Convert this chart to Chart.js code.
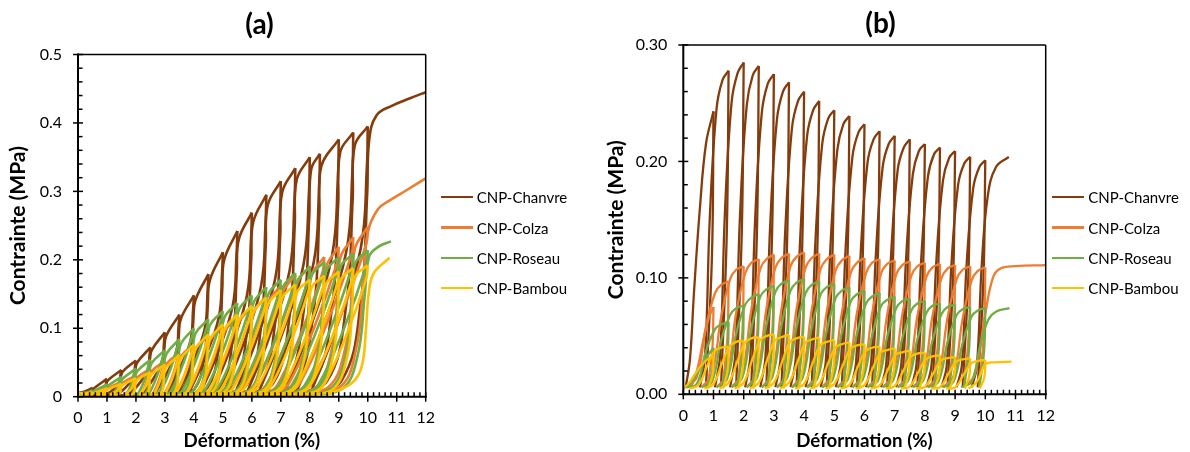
<!DOCTYPE html>
<html>
<head>
<meta charset="utf-8">
<script src="https://cdn.jsdelivr.net/npm/chart.js@4.4.1/dist/chart.umd.min.js"></script>
<style>
  html, body { margin: 0; padding: 0; background: #fff; }
  body { width: 1190px; height: 452px; position: relative; overflow: hidden; font-family: Lato, "Open Sans", sans-serif; }
  canvas { position: absolute; top: 0; }
  #ca { left: 0; }
  #cb { left: 600px; }
  .ttl { position: absolute; transform: translate(-50%, -50%); font: bold 28px Lato, sans-serif; color: #000; white-space: nowrap; }
  .leg { position: absolute; height: 20px; display: flex; align-items: center; font: 15px Lato, sans-serif; color: #000; white-space: nowrap; transform: translateY(-50%); }
  .leg i { display: inline-block; width: 32px; height: 2.5px; margin-right: 4px; }
</style>
</head>
<body>
<canvas id="ca" width="520" height="452"></canvas>
<canvas id="cb" width="590" height="452"></canvas>
<div class="ttl" style="left:259.5px;top:22.5px">(a)</div>
<div class="ttl" style="left:880.5px;top:22px">(b)</div>
<div id="legends"></div>
<script>
// Series identity
const seriesNames = ['CNP-Chanvre', 'CNP-Colza', 'CNP-Roseau', 'CNP-Bambou'];
const seriesColors = ['#843C0C', '#ED7D31', '#70AD47', '#FFC000'];

// Axis ticks
const strainTicks = [0, 1, 2, 3, 4, 5, 6, 7, 8, 9, 10, 11, 12];
const stressTicksA = [0, 0.1, 0.2, 0.3, 0.4, 0.5];
const stressLabelsA = ['0', '0.1', '0.2', '0.3', '0.4', '0.5'];
const stressTicksB = [0, 0.1, 0.2, 0.3];
const stressLabelsB = ['0.00', '0.10', '0.20', '0.30'];

// (a) loading/unloading cycles: [strain %, stress MPa]
const chanvreA = [
  [[0,.005],[.25,.008],[.5,.013],[.47,.011],[.46,.0072],[.31,.0033],[.15,.003]],
  [[.115,.003],[.34,.003],[.46,.0046],[.48,.0098],[.55,.0124],[1,.026],[.97,.0221],[.95,.0143],[.75,.0065],[.55,.003]],
  [[.5,.003],[.8,.003],[.95,.0091],[.98,.0195],[1.05,.0247],[1.5,.039],[1.47,.0332],[1.43,.0215],[1.2,.0098],[.95,.003]],
  [[.9,.003],[1.25,.003],[1.43,.0137],[1.48,.0293],[1.55,.037],[2,.053],[1.97,.045],[1.92,.0292],[1.64,.0133],[1.35,.003]],
  [[1.29,.003],[1.71,.0032],[1.92,.0186],[1.98,.0398],[2.05,.0504],[2.5,.072],[2.47,.0612],[2.41,.0396],[2.09,.018],[1.75,.003]],
  [[1.68,.003],[2.16,.0043],[2.41,.0252],[2.48,.054],[2.55,.0684],[3,.094],[2.97,.0799],[2.9,.0517],[2.56,.0235],[2.2,.003]],
  [[2.12,.003],[2.64,.0056],[2.9,.0329],[2.98,.0705],[3.05,.0893],[3.5,.12],[3.47,.102],[3.39,.066],[3.01,.03],[2.6,.003]],
  [[2.51,.003],[3.1,.0072],[3.39,.042],[3.48,.09],[3.55,.114],[4,.148],[3.97,.1258],[3.88,.0814],[3.45,.037],[3,.003]],
  [[2.9,.003],[3.55,.0089],[3.88,.0518],[3.98,.111],[4.05,.1406],[4.5,.179],[4.47,.1522],[4.37,.0985],[3.9,.0448],[3.4,.003]],
  [[3.29,.003],[4.01,.0107],[4.37,.0627],[4.48,.1343],[4.55,.17],[5,.211],[4.97,.1794],[4.86,.1161],[4.34,.0528],[3.8,.003]],
  [[3.68,.003],[4.46,.0127],[4.86,.0739],[4.98,.1583],[5.05,.2005],[5.5,.242],[5.47,.2057],[5.34,.1331],[4.79,.0605],[4.2,.003]],
  [[4.07,.003],[4.92,.0145],[5.34,.0847],[5.48,.1815],[5.55,.2299],[6,.269],[5.97,.2287],[5.83,.148],[5.23,.0673],[4.6,.003]],
  [[4.46,.003],[5.37,.0161],[5.83,.0942],[5.98,.2018],[6.05,.2556],[6.5,.295],[6.47,.2508],[6.32,.1623],[5.68,.0738],[5,.003]],
  [[4.85,.003],[5.83,.0177],[6.32,.1033],[6.48,.2213],[6.55,.2803],[7,.315],[6.97,.2678],[6.81,.1733],[6.12,.0788],[5.4,.003]],
  [[5.24,.003],[6.28,.0189],[6.81,.1103],[6.98,.2363],[7.05,.2993],[7.5,.334],[7.47,.2839],[7.3,.1837],[6.57,.0835],[5.8,.003]],
  [[5.63,.003],[6.74,.02],[7.3,.1169],[7.48,.2505],[7.55,.3173],[8,.35],[7.97,.2975],[7.78,.1925],[7.01,.0875],[6.2,.003]],
  [[6.02,.003],[7.19,.021],[7.78,.1225],[7.98,.2625],[8.05,.3325],[8.35,.355],[8.32,.3018],[8.13,.1953],[7.33,.0888],[6.5,.003]],
  [[6.31,.003],[7.52,.0213],[8.13,.1243],[8.33,.2663],[8.4,.3373],[9,.376],[8.97,.3196],[8.77,.2068],[7.96,.094],[7.1,.003]],
  [[6.91,.003],[8.15,.0226],[8.77,.1316],[8.98,.282],[9.05,.3572],[9.5,.386],[9.47,.3281],[9.26,.2123],[8.4,.0965],[7.5,.003]],
  [[7.3,.003],[8.6,.0232],[9.26,.1351],[9.48,.2895],[9.55,.3667],[10,.395],[9.97,.3358],[9.76,.2173],[8.9,.0988],[8,.003]],
  [[7.8,.003],[9.1,.0237],[9.76,.1383],[9.98,.2963],[10.05,.3753],[10.3,.411],[10.83,.425],[11.46,.436],[12,.445]]
];
const colzaA = [
  [[0,.004],[.3,.005],[.5,.007],[.45,.0063],[.35,.0032],[.15,.003]],
  [[.1,.003],[.44,.003],[.47,.0049],[.56,.0065],[1,.014],[.95,.0126],[.85,.0063],[.65,.003]],
  [[.6,.003],[.85,.003],[.955,.0042],[.97,.0098],[1.06,.013],[1.5,.022],[1.45,.0198],[1.35,.0099],[1.12,.003]],
  [[1.1,.003],[1.35,.003],[1.455,.0066],[1.47,.0154],[1.56,.0205],[2,.031],[1.95,.0279],[1.85,.014],[1.62,.003]],
  [[1.6,.003],[1.85,.003],[1.955,.0093],[1.97,.0217],[2.06,.0288],[2.5,.041],[2.45,.0369],[2.34,.0185],[2.17,.0033],[2.09,.003]],
  [[2.05,.003],[2.34,.003],[2.45,.0123],[2.47,.0287],[2.56,.0381],[3,.052],[2.95,.0468],[2.79,.0234],[2.58,.0042],[2.48,.003]],
  [[2.43,.003],[2.79,.003],[2.94,.0156],[2.97,.0364],[3.06,.0484],[3.5,.064],[3.45,.0576],[3.25,.0288],[2.99,.0051],[2.86,.003]],
  [[2.81,.003],[3.25,.0032],[3.42,.0192],[3.47,.0448],[3.56,.0595],[4,.076],[3.95,.0684],[3.7,.0342],[3.39,.0061],[3.24,.003]],
  [[3.18,.003],[3.7,.0038],[3.91,.0228],[3.97,.0532],[4.06,.0707],[4.5,.089],[4.45,.0801],[4.15,.04],[3.79,.0071],[3.61,.003]],
  [[3.54,.003],[4.15,.0045],[4.39,.0267],[4.47,.0623],[4.56,.0828],[5,.102],[4.95,.0918],[4.59,.0459],[4.18,.0082],[3.98,.003]],
  [[3.89,.003],[4.59,.0051],[4.88,.0306],[4.97,.0714],[5.06,.0949],[5.5,.117],[5.45,.1053],[5.03,.0527],[4.56,.0094],[4.33,.003]],
  [[4.23,.003],[5.03,.0059],[5.36,.0351],[5.47,.0819],[5.56,.1088],[6,.132],[5.95,.1188],[5.47,.0594],[4.94,.0106],[4.68,.003]],
  [[4.57,.003],[5.47,.0066],[5.84,.0396],[5.97,.0924],[6.06,.1228],[6.5,.147],[6.45,.1323],[5.91,.0662],[5.32,.0118],[5.03,.003]],
  [[4.91,.003],[5.91,.0074],[6.32,.0441],[6.47,.1029],[6.56,.1367],[7,.163],[6.95,.1467],[6.35,.0734],[5.7,.013],[5.38,.003]],
  [[5.25,.003],[6.35,.0082],[6.81,.0489],[6.97,.1141],[7.06,.1516],[7.5,.178],[7.45,.1602],[6.79,.0801],[6.08,.0142],[5.73,.003]],
  [[5.58,.003],[6.79,.0089],[7.29,.0534],[7.47,.1246],[7.56,.1655],[8,.191],[7.95,.1719],[7.24,.086],[6.47,.0153],[6.09,.003]],
  [[5.93,.003],[7.24,.0096],[7.77,.0573],[7.97,.1337],[8.06,.1776],[8.5,.204],[8.45,.1836],[7.69,.0918],[6.87,.0163],[6.46,.003]],
  [[6.3,.003],[7.69,.0102],[8.26,.0612],[8.47,.1428],[8.56,.1897],[9,.219],[8.95,.1971],[8.13,.0986],[7.25,.0175],[6.81,.003]],
  [[6.64,.003],[8.13,.011],[8.74,.0657],[8.97,.1533],[9.06,.2037],[9.5,.233],[9.45,.2097],[8.57,.1049],[7.64,.0186],[7.18,.003]],
  [[6.99,.003],[8.57,.0117],[9.22,.0699],[9.47,.1631],[9.56,.2167],[10,.248],[9.95,.2232],[9.01,.1116],[8.02,.0198],[7.53,.003]],
  [[7.33,.003],[9,.013],[9.6,.07],[9.85,.17],[10,.24],[10.35,.274],[10.8,.288],[11.35,.302],[12,.319]]
];
const roseauA = [
  [[0,.005],[.3,.006],[.5,.009],[.45,.0081],[.35,.004],[.15,.003]],
  [[.1,.003],[.44,.0035],[.47,.0063],[.56,.0084],[1,.018],[.95,.0162],[.85,.0081],[.65,.003]],
  [[.6,.003],[.85,.003],[.955,.0054],[.97,.0126],[1.06,.0167],[1.5,.029],[1.45,.0261],[1.35,.013],[1.2,.0032],[1.12,.003]],
  [[1.1,.003],[1.35,.003],[1.455,.0087],[1.47,.0203],[1.56,.027],[2,.041],[1.95,.0369],[1.84,.0185],[1.67,.0033],[1.59,.003]],
  [[1.55,.003],[1.84,.003],[1.95,.0123],[1.97,.0287],[2.06,.0381],[2.5,.054],[2.45,.0486],[2.29,.0243],[2.07,.0043],[1.96,.003]],
  [[1.92,.003],[2.29,.003],[2.44,.0162],[2.47,.0378],[2.56,.0502],[3,.068],[2.95,.0612],[2.73,.0306],[2.46,.0054],[2.33,.003]],
  [[2.27,.003],[2.73,.0034],[2.92,.0204],[2.97,.0476],[3.06,.0632],[3.5,.084],[3.45,.0756],[3.17,.0378],[2.83,.0067],[2.66,.003]],
  [[2.6,.003],[3.17,.0042],[3.4,.0252],[3.47,.0588],[3.56,.0781],[4,.1],[3.95,.09],[3.6,.045],[3.2,.008],[3,.003]],
  [[2.92,.003],[3.6,.005],[3.88,.03],[3.97,.07],[4.06,.093],[4.5,.113],[4.45,.1017],[4.05,.0509],[3.6,.009],[3.38,.003]],
  [[3.29,.003],[4.05,.0057],[4.37,.0339],[4.47,.0791],[4.56,.1051],[5,.125],[4.95,.1125],[4.5,.0563],[4,.01],[3.75,.003]],
  [[3.65,.003],[4.5,.0063],[4.85,.0375],[4.97,.0875],[5.06,.1163],[5.5,.137],[5.45,.1233],[4.95,.0617],[4.4,.011],[4.13,.003]],
  [[4.02,.003],[4.95,.0069],[5.34,.0411],[5.47,.0959],[5.56,.1274],[6,.148],[5.95,.1332],[5.41,.0666],[4.82,.0118],[4.53,.003]],
  [[4.41,.003],[5.41,.0074],[5.82,.0444],[5.97,.1036],[6.06,.1376],[6.5,.16],[6.45,.144],[5.86,.072],[5.22,.0128],[4.9,.003]],
  [[4.77,.003],[5.86,.008],[6.31,.048],[6.47,.112],[6.56,.1488],[7,.171],[6.95,.1539],[6.32,.077],[5.63,.0137],[5.29,.003]],
  [[5.15,.003],[6.32,.0086],[6.79,.0513],[6.97,.1197],[7.06,.159],[7.5,.181],[7.45,.1629],[6.78,.0815],[6.05,.0145],[5.69,.003]],
  [[5.54,.003],[6.78,.0091],[7.28,.0543],[7.47,.1267],[7.56,.1683],[8,.19],[7.95,.171],[7.24,.0855],[6.48,.0152],[6.1,.003]],
  [[5.95,.003],[7.24,.0095],[7.77,.057],[7.97,.133],[8.06,.1767],[8.5,.197],[8.45,.1773],[7.71,.0887],[6.92,.0158],[6.53,.003]],
  [[6.37,.003],[7.71,.0099],[8.26,.0591],[8.47,.1379],[8.56,.1832],[9,.204],[8.95,.1836],[8.19,.0918],[7.37,.0163],[6.96,.003]],
  [[6.8,.003],[8.19,.0102],[8.76,.0612],[8.97,.1428],[9.06,.1897],[9.5,.209],[9.45,.1881],[8.67,.0941],[7.83,.0167],[7.41,.003]],
  [[7.25,.003],[8.67,.0105],[9.25,.0627],[9.47,.1463],[9.56,.1944],[10,.214],[9.95,.1926],[9.15,.0963],[8.29,.0171],[7.86,.003]],
  [[7.69,.003],[9.1,.011],[9.65,.06],[9.9,.15],[10.05,.205],[10.4,.22],[10.8,.227]]
];
const bambouA = [
  [[0,.005],[.3,.005],[.5,.006],[.45,.0054],[.3,.003]],
  [[.1,.003],[.44,.003],[.47,.0042],[.56,.0056],[1,.012],[.95,.0108],[.85,.0054],[.65,.003]],
  [[.6,.003],[.85,.003],[.955,.0036],[.97,.0084],[1.06,.0112],[1.5,.019],[1.45,.0171],[1.35,.0086],[1.12,.003]],
  [[1.1,.003],[1.35,.003],[1.455,.0057],[1.47,.0133],[1.56,.0177],[2,.027],[1.95,.0243],[1.85,.0122],[1.62,.003]],
  [[1.6,.003],[1.85,.003],[1.955,.0081],[1.97,.0189],[2.06,.0251],[2.5,.036],[2.45,.0324],[2.35,.0162],[2.12,.003]],
  [[2.1,.003],[2.35,.003],[2.455,.0108],[2.47,.0252],[2.56,.0335],[3,.047],[2.95,.0423],[2.81,.0212],[2.62,.0038],[2.53,.003]],
  [[2.49,.003],[2.81,.003],[2.94,.0141],[2.97,.0329],[3.06,.0437],[3.5,.061],[3.45,.0549],[3.26,.0275],[3.01,.0049],[2.89,.003]],
  [[2.84,.003],[3.26,.003],[3.43,.0183],[3.47,.0427],[3.56,.0567],[4,.076],[3.95,.0684],[3.7,.0342],[3.39,.0061],[3.24,.003]],
  [[3.18,.003],[3.7,.0038],[3.91,.0228],[3.97,.0532],[4.06,.0707],[4.5,.091],[4.45,.0819],[4.14,.041],[3.77,.0073],[3.59,.003]],
  [[3.51,.003],[4.14,.0046],[4.39,.0273],[4.47,.0637],[4.56,.0846],[5,.106],[4.95,.0954],[4.58,.0477],[4.15,.0085],[3.94,.003]],
  [[3.85,.003],[4.58,.0053],[4.87,.0318],[4.97,.0742],[5.06,.0986],[5.5,.12],[5.45,.108],[5.02,.054],[4.54,.0096],[4.3,.003]],
  [[4.2,.003],[5.02,.006],[5.36,.036],[5.47,.084],[5.56,.1116],[6,.133],[5.95,.1197],[5.47,.0599],[4.94,.0106],[4.68,.003]],
  [[4.57,.003],[5.47,.0067],[5.84,.0399],[5.97,.0931],[6.06,.1237],[6.5,.145],[6.45,.1305],[5.92,.0653],[5.34,.0116],[5.05,.003]],
  [[4.93,.003],[5.92,.0073],[6.33,.0435],[6.47,.1015],[6.56,.1349],[7,.156],[6.95,.1404],[6.38,.0702],[5.75,.0125],[5.44,.003]],
  [[5.31,.003],[6.38,.0078],[6.81,.0468],[6.97,.1092],[7.06,.1451],[7.5,.164],[7.45,.1476],[6.85,.0738],[6.19,.0131],[5.86,.003]],
  [[5.73,.003],[6.85,.0082],[7.3,.0492],[7.47,.1148],[7.56,.1525],[8,.171],[7.95,.1539],[7.32,.077],[6.63,.0137],[6.29,.003]],
  [[6.15,.003],[7.32,.0086],[7.79,.0513],[7.97,.1197],[8.06,.159],[8.5,.177],[8.45,.1593],[7.79,.0797],[7.08,.0142],[6.73,.003]],
  [[6.58,.003],[7.79,.0089],[8.29,.0531],[8.47,.1239],[8.56,.1646],[9,.183],[8.95,.1647],[8.27,.0824],[7.54,.0146],[7.18,.003]],
  [[7.03,.003],[8.27,.0092],[8.78,.0549],[8.97,.1281],[9.06,.1702],[9.5,.188],[9.45,.1692],[8.75,.0846],[8,.015],[7.63,.003]],
  [[7.48,.003],[8.75,.0094],[9.28,.0564],[9.47,.1316],[9.56,.1748],[10,.192],[9.95,.1728],[9.23,.0864],[8.46,.0154],[8.08,.003]],
  [[8.6,.003],[9.45,.02],[9.79,.044],[9.94,.1],[10.03,.15],[10.2,.18],[10.75,.203]]
];

// (b) loading/unloading cycles: [strain %, stress MPa]
const chanvreB = [
  [[.08,.006],[.22,.03],[.36,.09],[.55,.16],[.75,.215],[1,.243],[.95,.12],[.75,.006]],
  [[.55,.006],[.72,.033],[.88,.153],[1.1,.245],[1.3,.27],[1.5,.278],[1.44,.139],[1.25,.006]],
  [[1.05,.006],[1.22,.034],[1.38,.157],[1.6,.251],[1.8,.276],[2,.285],[1.94,.143],[1.75,.006]],
  [[1.55,.006],[1.72,.034],[1.88,.155],[2.1,.248],[2.3,.274],[2.5,.282],[2.44,.141],[2.25,.006]],
  [[2.05,.006],[2.22,.033],[2.38,.151],[2.6,.242],[2.8,.267],[3,.275],[2.94,.138],[2.75,.006]],
  [[2.55,.006],[2.72,.032],[2.88,.147],[3.1,.236],[3.3,.26],[3.5,.268],[3.44,.134],[3.25,.006]],
  [[3.05,.006],[3.22,.031],[3.38,.143],[3.6,.229],[3.8,.252],[4,.26],[3.94,.13],[3.75,.006]],
  [[3.55,.006],[3.72,.03],[3.88,.139],[4.1,.222],[4.3,.244],[4.5,.252],[4.44,.126],[4.25,.006]],
  [[4.05,.006],[4.22,.029],[4.38,.134],[4.6,.215],[4.8,.237],[5,.244],[4.94,.122],[4.75,.006]],
  [[4.55,.006],[4.72,.029],[4.88,.131],[5.1,.21],[5.3,.232],[5.5,.239],[5.44,.12],[5.25,.006]],
  [[5.05,.006],[5.22,.028],[5.38,.128],[5.6,.204],[5.8,.225],[6,.232],[5.94,.116],[5.75,.006]],
  [[5.55,.006],[5.72,.027],[5.88,.124],[6.1,.199],[6.3,.219],[6.5,.226],[6.44,.113],[6.25,.006]],
  [[6.05,.006],[6.22,.027],[6.38,.122],[6.6,.195],[6.8,.215],[7,.222],[6.94,.111],[6.75,.006]],
  [[6.55,.006],[6.72,.026],[6.88,.12],[7.1,.193],[7.3,.212],[7.5,.219],[7.44,.11],[7.25,.006]],
  [[7.05,.006],[7.22,.026],[7.38,.118],[7.6,.189],[7.8,.209],[8,.215],[7.94,.108],[7.75,.006]],
  [[7.55,.006],[7.72,.025],[7.88,.117],[8.1,.187],[8.3,.206],[8.5,.212],[8.44,.106],[8.25,.006]],
  [[8.05,.006],[8.22,.025],[8.38,.115],[8.6,.184],[8.8,.203],[9,.209],[8.94,.105],[8.75,.006]],
  [[8.55,.006],[8.72,.024],[8.88,.112],[9.1,.18],[9.3,.198],[9.5,.204],[9.44,.102],[9.25,.006]],
  [[9.05,.006],[9.22,.024],[9.38,.111],[9.6,.177],[9.8,.195],[10,.201],[9.94,.1],[9.75,.006]],
  [[9.55,.006],[9.72,.024],[9.88,.11],[10.08,.17],[10.35,.195],[10.78,.204]]
];
const colzaB = [
  [[.25,.006],[.45,.02],[.65,.045],[.85,.066],[1,.075],[.96,.038],[.8,.006]],
  [[.1,.006],[.45,.015],[.75,.058],[1.05,.087],[1.25,.094],[1.5,.097],[1.46,.049],[1.3,.006]],
  [[.6,.006],[.95,.017],[1.25,.066],[1.55,.099],[1.75,.107],[2,.11],[1.96,.055],[1.8,.006]],
  [[1.1,.006],[1.45,.017],[1.75,.07],[2.05,.104],[2.25,.113],[2.5,.116],[2.46,.058],[2.3,.006]],
  [[1.6,.006],[1.95,.018],[2.25,.072],[2.55,.108],[2.75,.116],[3,.12],[2.96,.06],[2.8,.006]],
  [[2.1,.006],[2.45,.018],[2.75,.073],[3.05,.109],[3.25,.117],[3.5,.121],[3.46,.061],[3.3,.006]],
  [[2.6,.006],[2.95,.018],[3.25,.073],[3.55,.11],[3.75,.118],[4,.122],[3.96,.061],[3.8,.006]],
  [[3.1,.006],[3.45,.018],[3.75,.073],[4.05,.109],[4.25,.117],[4.5,.121],[4.46,.061],[4.3,.006]],
  [[3.6,.006],[3.95,.018],[4.25,.072],[4.55,.108],[4.75,.116],[5,.12],[4.96,.06],[4.8,.006]],
  [[4.1,.006],[4.45,.018],[4.75,.071],[5.05,.107],[5.25,.115],[5.5,.119],[5.46,.06],[5.3,.006]],
  [[4.6,.006],[4.95,.018],[5.25,.07],[5.55,.105],[5.75,.113],[6,.117],[5.96,.059],[5.8,.006]],
  [[5.1,.006],[5.45,.017],[5.75,.07],[6.05,.104],[6.25,.113],[6.5,.116],[6.46,.058],[6.3,.006]],
  [[5.6,.006],[5.95,.017],[6.25,.069],[6.55,.104],[6.75,.112],[7,.115],[6.96,.058],[6.8,.006]],
  [[6.1,.006],[6.45,.017],[6.75,.068],[7.05,.103],[7.25,.111],[7.5,.114],[7.46,.057],[7.3,.006]],
  [[6.6,.006],[6.95,.017],[7.25,.068],[7.55,.102],[7.75,.11],[8,.113],[7.96,.057],[7.8,.006]],
  [[7.1,.006],[7.45,.017],[7.75,.067],[8.05,.101],[8.25,.109],[8.5,.112],[8.46,.056],[8.3,.006]],
  [[7.6,.006],[7.95,.017],[8.25,.067],[8.55,.1],[8.75,.108],[9,.111],[8.96,.056],[8.8,.006]],
  [[8.1,.006],[8.45,.017],[8.75,.066],[9.05,.099],[9.25,.107],[9.5,.11],[9.46,.055],[9.3,.006]],
  [[8.6,.006],[8.95,.016],[9.25,.065],[9.55,.098],[9.75,.106],[10,.109],[9.96,.055],[9.8,.006]],
  [[9.3,.006],[9.65,.017],[9.98,.066],[10.25,.1],[10.5,.108],[11,.11],[12,.111]]
];
const roseauB = [
  [[0,.005],[.25,.01],[.5,.02],[.75,.031],[1,.04],[.96,.02],[.8,.006]],
  [[.1,.006],[.45,.009],[.75,.037],[1.05,.056],[1.25,.06],[1.5,.062],[1.46,.031],[1.3,.006]],
  [[.6,.006],[.95,.011],[1.25,.046],[1.55,.068],[1.75,.074],[2,.076],[1.96,.038],[1.8,.006]],
  [[1.1,.006],[1.45,.013],[1.75,.052],[2.05,.077],[2.25,.083],[2.5,.086],[2.46,.043],[2.3,.006]],
  [[1.6,.006],[1.95,.014],[2.25,.056],[2.55,.084],[2.75,.09],[3,.093],[2.96,.047],[2.8,.006]],
  [[2.1,.006],[2.45,.015],[2.75,.059],[3.05,.088],[3.25,.095],[3.5,.098],[3.46,.049],[3.3,.006]],
  [[2.6,.006],[2.95,.015],[3.25,.059],[3.55,.089],[3.75,.096],[4,.099],[3.96,.05],[3.8,.006]],
  [[3.1,.006],[3.45,.015],[3.75,.058],[4.05,.087],[4.25,.094],[4.5,.097],[4.46,.049],[4.3,.006]],
  [[3.6,.006],[3.95,.014],[4.25,.057],[4.55,.086],[4.75,.092],[5,.095],[4.96,.048],[4.8,.006]],
  [[4.1,.006],[4.45,.014],[4.75,.055],[5.05,.083],[5.25,.089],[5.5,.092],[5.46,.046],[5.3,.006]],
  [[4.6,.006],[4.95,.013],[5.25,.053],[5.55,.08],[5.75,.086],[6,.089],[5.96,.045],[5.8,.006]],
  [[5.1,.006],[5.45,.013],[5.75,.052],[6.05,.078],[6.25,.084],[6.5,.087],[6.46,.044],[6.3,.006]],
  [[5.6,.006],[5.95,.013],[6.25,.05],[6.55,.076],[6.75,.081],[7,.084],[6.96,.042],[6.8,.006]],
  [[6.1,.006],[6.45,.012],[6.75,.049],[7.05,.074],[7.25,.08],[7.5,.082],[7.46,.041],[7.3,.006]],
  [[6.6,.006],[6.95,.012],[7.25,.048],[7.55,.072],[7.75,.078],[8,.08],[7.96,.04],[7.8,.006]],
  [[7.1,.006],[7.45,.012],[7.75,.047],[8.05,.07],[8.25,.076],[8.5,.078],[8.46,.039],[8.3,.006]],
  [[7.6,.006],[7.95,.012],[8.25,.046],[8.55,.069],[8.75,.075],[9,.077],[8.96,.039],[8.8,.006]],
  [[8.1,.006],[8.45,.011],[8.75,.045],[9.05,.068],[9.25,.073],[9.5,.075],[9.46,.038],[9.3,.006]],
  [[8.6,.006],[8.95,.011],[9.25,.044],[9.55,.067],[9.75,.072],[10,.074],[9.96,.037],[9.8,.006]],
  [[9.2,.006],[9.55,.011],[9.85,.044],[10.1,.064],[10.35,.071],[10.8,.074]]
];
const bambouB = [
  [[0,.005],[.2,.01],[.4,.018],[.6,.025],[.8,.03],[1,.033],[.97,.017],[.82,.005]],
  [[.2,.005],[.5,.008],[.8,.025],[1.03,.037],[1.25,.04],[1.5,.041],[1.47,.021],[1.32,.005]],
  [[.7,.005],[1,.009],[1.3,.028],[1.53,.041],[1.75,.045],[2,.046],[1.97,.023],[1.82,.005]],
  [[1.2,.005],[1.5,.01],[1.8,.029],[2.03,.044],[2.25,.048],[2.5,.049],[2.47,.025],[2.32,.005]],
  [[1.7,.005],[2,.01],[2.3,.031],[2.53,.046],[2.75,.05],[3,.0515],[2.97,.026],[2.82,.005]],
  [[2.2,.005],[2.5,.01],[2.8,.031],[3.03,.046],[3.25,.049],[3.5,.051],[3.47,.026],[3.32,.005]],
  [[2.7,.005],[3,.01],[3.3,.03],[3.53,.045],[3.75,.048],[4,.0496],[3.97,.025],[3.82,.005]],
  [[3.2,.005],[3.5,.01],[3.8,.029],[4.03,.044],[4.25,.047],[4.5,.0487],[4.47,.024],[4.32,.005]],
  [[3.7,.005],[4,.009],[4.3,.028],[4.53,.042],[4.75,.045],[5,.0467],[4.97,.023],[4.82,.005]],
  [[4.2,.005],[4.5,.009],[4.8,.027],[5.03,.04],[5.25,.043],[5.5,.0447],[5.47,.022],[5.32,.005]],
  [[4.7,.005],[5,.009],[5.3,.026],[5.53,.039],[5.75,.042],[6,.043],[5.97,.022],[5.82,.005]],
  [[5.2,.005],[5.5,.008],[5.8,.025],[6.03,.037],[6.25,.04],[6.5,.041],[6.47,.021],[6.32,.005]],
  [[5.7,.005],[6,.008],[6.3,.024],[6.53,.036],[6.75,.038],[7,.0395],[6.97,.02],[6.82,.005]],
  [[6.2,.005],[6.5,.0075],[6.8,.0225],[7.03,.034],[7.25,.036],[7.5,.0375],[7.47,.019],[7.32,.005]],
  [[6.7,.005],[7,.007],[7.3,.021],[7.53,.032],[7.75,.035],[8,.0358],[7.97,.018],[7.82,.005]],
  [[7.2,.005],[7.5,.0067],[7.8,.02],[8.03,.03],[8.25,.0325],[8.5,.0335],[8.47,.017],[8.32,.005]],
  [[7.7,.005],[8,.0064],[8.3,.019],[8.53,.029],[8.75,.031],[9,.032],[8.97,.016],[8.82,.005]],
  [[8.2,.005],[8.5,.0062],[8.8,.0186],[9.03,.028],[9.25,.03],[9.5,.031],[9.47,.0155],[9.32,.005]],
  [[8.7,.005],[9,.0059],[9.3,.0177],[9.53,.0266],[9.75,.0286],[10,.0295],[9.97,.015],[9.82,.005]],
  [[9.45,.005],[9.7,.01],[9.85,.018],[10,.026],[10.3,.0275],[10.87,.028]]
];

const FONT = 'Lato, "Open Sans", sans-serif';

// Split each cycle at its highest point so the peak stays a sharp cusp:
// the rising branch and the falling branch become separate line datasets.
function cycleDatasets(cycles, color, width, order) {
  const out = [];
  cycles.forEach(cyc => {
    let top = 0;
    cyc.forEach((p, i) => { if (p[1] >= cyc[top][1]) top = i; });
    [cyc.slice(0, top + 1), cyc.slice(top)].forEach(seg => {
      if (seg.length > 1) {
        out.push({ data: seg, borderColor: color, borderWidth: width, order: order,
                   pointRadius: 0, tension: 0.4, fill: false });
      }
    });
  });
  return out;
}

// Plot frame with crossing major ticks and inward minor ticks
function framePlugin(yTicks) {
  return {
    id: 'frame',
    afterDatasetsDraw(chart) {
      const { ctx, chartArea: a, scales: { x, y } } = chart;
      const seg = (x1, y1, x2, y2) => { ctx.beginPath(); ctx.moveTo(x1, y1); ctx.lineTo(x2, y2); ctx.stroke(); };
      ctx.save();
      ctx.strokeStyle = '#000';
      ctx.lineWidth = 1.5;
      seg(a.left, a.top, a.right, a.top);
      seg(a.right, a.top, a.right, a.bottom);
      ctx.lineWidth = 2;
      seg(a.left, a.top - 1, a.left, a.bottom + 1);
      seg(a.left - 1, a.bottom, a.right + 1, a.bottom);
      ctx.lineWidth = 1.5;
      yTicks.forEach((v, i) => {
        const p = y.getPixelForValue(v);
        seg(a.left - 5, p, a.left + 5, p);
        if (i < yTicks.length - 1) {
          for (let j = 1; j < 5; j++) {
            const q = y.getPixelForValue(v + (yTicks[i + 1] - v) * j / 5);
            seg(a.left, q, a.left + 4.5, q);
          }
        }
      });
      strainTicks.forEach((v, i) => {
        const p = x.getPixelForValue(v);
        seg(p, a.bottom - 4.5, p, a.bottom + 5);
        if (i < strainTicks.length - 1) {
          for (let j = 1; j < 5; j++) {
            const q = x.getPixelForValue(v + (strainTicks[i + 1] - v) * j / 5);
            seg(q, a.bottom - 4.5, q, a.bottom);
          }
        }
      });
      ctx.restore();
    }
  };
}

function buildPanel(id, groups, yTicks, yLabels, lw, box) {
  const datasets = [];
  groups.forEach((cycles, s) => datasets.push(...cycleDatasets(cycles, seriesColors[s], lw, 3 - s)));
  const tickFont = { family: FONT, size: 16 };
  return new Chart(document.getElementById(id), {
    type: 'line',
    data: { datasets },
    options: {
      responsive: false,
      animation: false,
      events: [],
      layout: { padding: { left: 0, right: box.right, top: box.top, bottom: 0 } },
      plugins: { legend: { display: false }, tooltip: { enabled: false } },
      scales: {
        x: {
          type: 'linear', min: 0, max: 12,
          afterBuildTicks: s => { s.ticks = strainTicks.map(v => ({ value: v })); },
          afterFit: s => { s.height = box.xh; },
          ticks: { font: tickFont, color: '#000', padding: 12, maxRotation: 0, autoSkip: false,
                   callback: v => String(v) },
          grid: { display: false, drawTicks: false, tickLength: 0 }, border: { display: false },
          title: { display: true, text: 'Déformation (%)', font: { family: FONT, size: 18.7, weight: 'bold' },
                   color: '#000', padding: { top: 0, bottom: 0 } }
        },
        y: {
          type: 'linear', min: 0, max: yTicks[yTicks.length - 1],
          afterBuildTicks: s => { s.ticks = yTicks.map(v => ({ value: v })); },
          afterFit: s => { s.width = box.yw; },
          ticks: { font: tickFont, color: '#000', padding: 16, callback: (v, i) => yLabels[i] },
          grid: { display: false, drawTicks: false, tickLength: 0 }, border: { display: false },
          title: { display: true, text: 'Contrainte (MPa)', font: { family: FONT, size: 21, weight: 'bold' },
                   color: '#000', padding: { top: box.yt, bottom: 0 } }
        }
      }
    },
    plugins: [framePlugin(yTicks)]
  });
}

buildPanel('ca', [chanvreA, colzaA, roseauA, bambouA], stressTicksA, stressLabelsA, 2.6,
           { right: 94.3, top: 54.5, xh: 55.3, yw: 78, yt: 5.9 });
buildPanel('cb', [chanvreB, colzaB, roseauB, bambouB], stressTicksB, stressLabelsB, 2.3,
           { right: 144.3, top: 45, xh: 57.7, yw: 83.3, yt: 4.1 });

// Legends beside each panel
const legendLeft = [440.7, 1052.3];
const legendTop = [197, 227.5, 257.8, 288];
const host = document.getElementById('legends');
legendLeft.forEach(left => {
  seriesNames.forEach((name, i) => {
    const row = document.createElement('div');
    row.className = 'leg';
    row.style.left = left + 'px';
    row.style.top = legendTop[i] + 'px';
    const mark = document.createElement('i');
    mark.style.background = seriesColors[i];
    row.appendChild(mark);
    row.appendChild(document.createTextNode(name));
    host.appendChild(row);
  });
});
</script>
</body>
</html>
